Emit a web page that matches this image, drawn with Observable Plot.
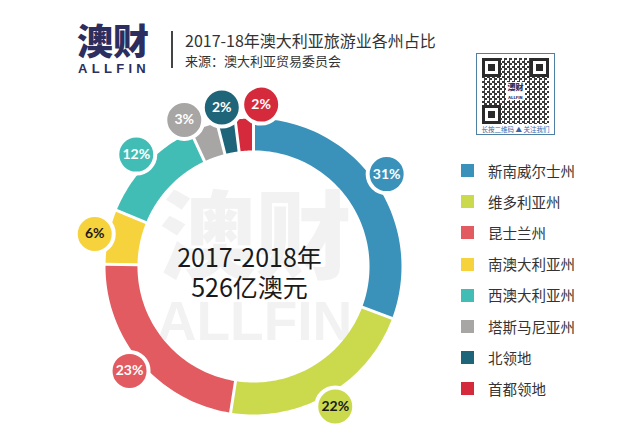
<!DOCTYPE html>
<html><head><meta charset="utf-8">
<script src="https://cdn.jsdelivr.net/npm/d3@7"></script>
<script src="https://cdn.jsdelivr.net/npm/@observablehq/plot@0.6"></script>
<style>
body{margin:0;background:#fff;font-family:"Noto Sans CJK SC","Noto Sans",sans-serif;}
#wrap{position:relative;width:626px;height:431px;overflow:hidden;background:#fff}
#chart{position:absolute;left:0;top:0}
.abs{position:absolute;white-space:nowrap}
#logo{left:77px;top:21px;font-size:36px;line-height:36px;font-weight:900;color:#2b2e5e;letter-spacing:0px}
#logoEn{left:78px;top:62px;font-family:"Liberation Sans",Arial,sans-serif;font-size:13px;line-height:13px;font-weight:bold;color:#2b2e5e;letter-spacing:4.3px}
#divider{left:171px;top:31px;width:1.5px;height:37px;background:#444}
#title{left:185px;top:32px;font-size:16px;line-height:16px;color:#333}
#source{left:185px;top:54px;font-size:13px;line-height:13px;color:#333}
#qr{left:476px;top:53px;width:77px;height:80px;border:1.5px solid #4f7fa3;background:#fff}
#qrcode{position:absolute;left:5px;top:4px;width:67px;height:66px;
  background:repeating-conic-gradient(#3a3a3a 0 25%,#fff 0 50%) 0 0/5px 5px;}
.finder{position:absolute;width:13px;height:13px;border:3px solid #2a2a2a;background:#fff}
.finder::after{content:"";position:absolute;left:3px;top:3px;width:7px;height:7px;background:#2a2a2a}
#qrlogo{position:absolute;left:24px;top:24px;width:19px;height:18px;background:#fff;color:#2b2e5e;font-size:8px;line-height:9px;text-align:center;font-weight:900}
#qrcap{position:absolute;left:0;width:77px;top:71px;text-align:center;font-size:6.5px;line-height:8px;color:#3a66a8;background:#fff}
#legend{left:461px;top:155px}
.item{display:flex;align-items:center;height:31.2px}
.sw{width:13px;height:13px;margin-right:14px}
.lt{font-size:14.5px;color:#333;line-height:16px}
</style></head><body>
<div id="wrap">
  <div id="chart"></div>
  <div class="abs" id="logo"></div>
  <div class="abs" id="logoEn"></div>
  <div class="abs" id="divider"></div>
  <div class="abs" id="title"></div>
  <div class="abs" id="source"></div>
  <div class="abs" id="qr">
    <div id="qrcode">
      <div class="finder" style="left:0;top:0"></div>
      <div class="finder" style="right:0;top:0"></div>
      <div class="finder" style="left:0;bottom:0"></div>
      <div id="qrlogo">澳财<br><span style="font-size:4px">ALLFIN</span></div>
    </div>
    <div id="qrcap">长按二维码 ▲ 关注我们</div>
  </div>
  <div class="abs" id="legend"></div>
</div>
<script>
// ---- data ----
const states = ["新南威尔士州","维多利亚州","昆士兰州","南澳大利亚州","西澳大利亚州","塔斯马尼亚州","北领地","首都领地"];
const shares = [31, 22, 23, 6, 12, 3, 2, 2];
const colors = ["#3a92bb","#cbd94d","#e15b60","#f6d23d","#42bdb6","#a8a6a5","#1f6579","#d52a3b"];
const labelInk = ["#ffffff","#1a1a1a","#ffffff","#1a1a1a","#ffffff","#ffffff","#ffffff","#ffffff"];
const centerLines = ["2017-2018年", "526亿澳元"];
const watermark = ["澳财", "ALLFIN"];
const titleText = "2017-18年澳大利亚旅游业各州占比";
const sourceText = "来源：澳大利亚贸易委员会";
const logoText = ["澳财", "ALLFIN"];

// ---- header & legend ----
document.getElementById("logo").textContent = logoText[0];
document.getElementById("logoEn").textContent = logoText[1];
document.getElementById("title").textContent = titleText;
document.getElementById("source").textContent = sourceText;
const lg = document.getElementById("legend");
states.forEach((s, i) => {
  const it = document.createElement("div"); it.className = "item";
  const sw = document.createElement("div"); sw.className = "sw"; sw.style.background = colors[i];
  const t = document.createElement("div"); t.className = "lt"; t.textContent = s;
  it.append(sw, t); lg.append(it);
});

// ---- geometry (data space: outer radius = 1) ----
const total = d3.sum(shares);
const R1 = 1, R0 = 0.784, RL = 1.095;
const pxPerUnit = 148;
const gapPx = 3;
const slices = [];
let cum = 0;
shares.forEach((v, i) => {
  const a0 = cum / total * 2 * Math.PI, a1 = (cum + v) / total * 2 * Math.PI;
  cum += v;
  slices.push({state: states[i], color: colors[i], a0, a1, mid: (a0 + a1) / 2, i});
});
const pts = [];
for (const s of slices) {
  const n = 60;
  for (const [r, dir] of [[R1, 1], [R0, -1]]) {
    const off = (gapPx / 2) / (r * pxPerUnit);
    const b0 = s.a0 + off, b1 = s.a1 - off;
    for (let k = 0; k <= n; k++) {
      const t = dir > 0 ? k / n : 1 - k / n;
      const a = b0 + (b1 - b0) * t;
      pts.push({state: s.state, color: s.color, x: r * Math.sin(a), y: r * Math.cos(a)});
    }
  }
}
// label angles: start at mid-angles, then spread apart so circles don't overlap
let ang = slices.map(s => s.mid * 180 / Math.PI);
const minSep = 14;
for (let it = 0; it < 400; it++) {
  for (let i = 0; i < ang.length; i++) {
    const j = (i + 1) % ang.length;
    let d = ang[j] - ang[i]; if (j === 0) d += 360;
    if (d < minSep) {
      const push = (minSep - d) / 2;
      ang[i] -= push; ang[j] += push;
    }
  }
}
const labels = slices.map((s, i) => {
  const a = ang[i] * Math.PI / 180;
  return {x: RL * Math.sin(a), y: RL * Math.cos(a), color: s.color, ink: labelInk[i], text: shares[i] + "%"};
});
const center = [{x: 0, y: 0}];

const cx = 253, cy = 266;
const chart = Plot.plot({
  width: 626, height: 431,
  margin: 0,
  x: {domain: [-1, 1], range: [cx - pxPerUnit, cx + pxPerUnit], axis: null},
  y: {domain: [-1, 1], range: [cy + pxPerUnit, cy - pxPerUnit], axis: null},
  color: {type: "identity"},
  style: {fontFamily: "'Noto Sans CJK SC', 'Noto Sans', sans-serif", background: "transparent", overflow: "visible"},
  marks: [
    Plot.text(center, {x: "x", y: "y", text: () => watermark[0], fontSize: 96, fontWeight: 900, fill: "#f2f2f2", dy: -26, dx: 2}),
    Plot.text(center, {x: "x", y: "y", text: () => watermark[1], fontSize: 55, fontWeight: "bold", fill: "#f2f2f2", dy: 56, dx: 1, fontFamily: "'Liberation Sans', Arial, sans-serif"}),
    Plot.line(pts, {x: "x", y: "y", z: "state", fill: "color", stroke: "none", curve: "linear-closed"}),
    Plot.dot(labels, {x: "x", y: "y", r: 19, fill: "color", stroke: "#fff", strokeWidth: 4}),
    Plot.text(labels, {x: "x", y: "y", text: "text", fill: "ink", fontSize: 14, fontWeight: "bold", fontFamily: "Lato, 'Noto Sans', sans-serif"}),
    Plot.text(center, {x: "x", y: "y", text: () => centerLines[0], fontSize: 25, fill: "#1a1a1a", dy: -8, dx: -4}),
    Plot.text(center, {x: "x", y: "y", text: () => centerLines[1], fontSize: 25, fill: "#1a1a1a", dy: 22, dx: -4})
  ]
});
document.getElementById("chart").append(chart);
</script>
</body></html>
